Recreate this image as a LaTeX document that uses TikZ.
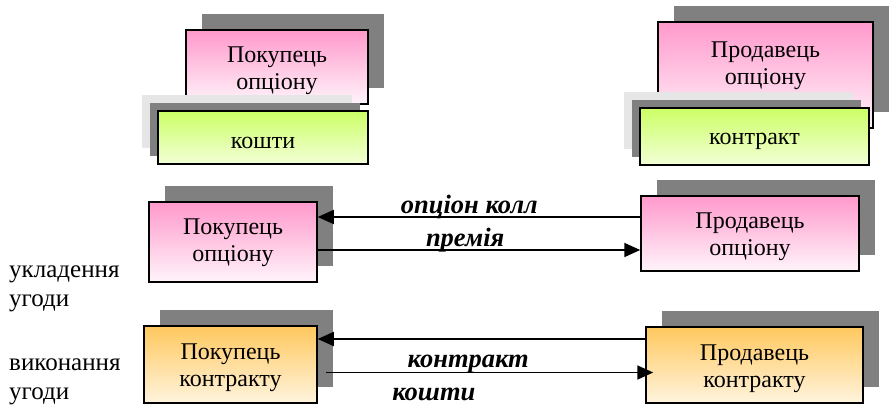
\documentclass[tikz,border=0pt]{standalone}
\usepackage{fontspec}
\setmainfont{LiberationSerif}[Extension=.ttf, UprightFont=*-Regular, BoldFont=*-Bold, ItalicFont=*-Italic, BoldItalicFont=*-BoldItalic]
\usetikzlibrary{positioning,calc,shadows,arrows.meta}

\definecolor{pinktop}{HTML}{FF99CC}
\definecolor{pinkbot}{HTML}{FFF4FA}
\definecolor{greentop}{HTML}{CCFF66}
\definecolor{greenbot}{HTML}{F2FFD6}
\definecolor{orangetop}{HTML}{FFC85E}
\definecolor{orangebot}{HTML}{FFF4DE}
\definecolor{shadowgray}{HTML}{808080}
\definecolor{palegray}{HTML}{E6E6E6}

\begin{document}
\begin{tikzpicture}[x=1pt,y=-1pt,
	boxtext/.style={align=center, font=\fontsize{24}{27}\selectfont},
	framed/.style={boxtext, draw=black, line width=1.5pt, inner sep=0pt},
	pinkbox/.style={framed, text height=50pt, top color=pinktop, bottom color=pinkbot,
		general shadow={fill=shadowgray, shadow xshift=16pt, shadow yshift=16pt}},
	orangebox/.style={framed, text height=50pt, top color=orangetop, bottom color=orangebot,
		general shadow={fill=shadowgray, shadow xshift=16pt, shadow yshift=16pt}},
	greenbox/.style={framed, text height=22pt, top color=greentop, bottom color=greenbot,
		general shadow={fill=palegray, shadow xshift=-16pt, shadow yshift=16pt},
		general shadow={fill=shadowgray, shadow xshift=-8pt, shadow yshift=8pt}},
	flow/.style={line width=1.8pt, -{Triangle[length=16pt, width=14pt]}},
	flowlabel/.style={font=\fontsize{26.5}{30}\selectfont\bfseries\itshape, inner sep=0pt, anchor=base},
	sidetext/.style={align=left, anchor=west, inner sep=0pt, font=\fontsize{25}{29}\selectfont}]
	\useasboundingbox (0,0) rectangle (889,406);

	\node[pinkbox, minimum width=182pt, minimum height=74pt] (buyopt) at (277,67) {Покупець\\опціону};
	\node[greenbox, minimum width=210pt, minimum height=53pt] (money) at (263,137.5) {кошти};

	\node[pinkbox, minimum width=215pt, minimum height=106pt] (sellopt) at (765.5,75) {};
	\node[boxtext] (sellopttxt) at ([yshift=9pt]sellopt.center) {Продавець\\опціону};
	\node[greenbox, minimum width=229pt, minimum height=57pt] (contract) at (754.5,136.5) {контракт};

	\node[pinkbox, minimum width=168pt, minimum height=80pt, text height=45pt] (buyer) at (233,242) {Покупець\\опціону};
	\node[pinkbox, minimum width=218pt, minimum height=75pt] (seller) at (750,233.5) {Продавець\\опціону};

	\node[orangebox, minimum width=173pt, minimum height=77pt] (cbuyer) at (230.5,364.5) {Покупець\\контракту};
	\node[orangebox, minimum width=217pt, minimum height=76pt] (cseller) at (754.5,365) {Продавець\\контракту};

	\node[sidetext] (deal) at (9,289) {укладення\\угоди};
	\node[sidetext] (exec) at (9,382) {виконання\\угоди};

	\draw[flow] ([yshift=16.5pt]seller.west) -- ([yshift=16.5pt]seller.west -| buyer.east)
		node[flowlabel, pos=0.53, yshift=3pt] (call) {опціон колл};
	\draw[flow] ([yshift=-8pt]buyer.east) -- ([yshift=-8pt]buyer.east -| seller.west)
		node[flowlabel, pos=0.457, yshift=3.5pt] (premium) {премія};

	\draw[flow] ([yshift=26pt]cseller.west) -- ([yshift=26pt]cseller.west -| cbuyer.east);
	\draw[flow] ([xshift=8pt,yshift=-8pt]cbuyer.east) -- ([xshift=8pt,yshift=-8pt]cbuyer.east -| cseller.west)
		node[flowlabel, pos=0.435, yshift=5pt] (contractlbl) {контракт}
		node[flowlabel, pos=0.33, yshift=-28pt] (moneylbl) {кошти};
\end{tikzpicture}
\end{document}
